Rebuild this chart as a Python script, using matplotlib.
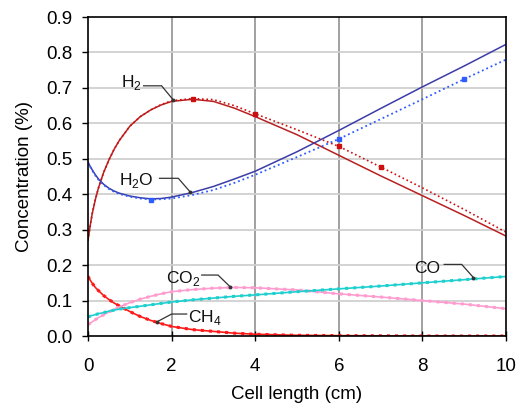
import numpy as np
import matplotlib
matplotlib.use("Agg")
import matplotlib.pyplot as plt

plt.rcParams["font.family"] = ["Liberation Sans", "DejaVu Sans"]
plt.rcParams["mathtext.fontset"] = "custom"
plt.rcParams["mathtext.rm"] = "Liberation Sans"

# --------------- DATA -------------------------------------------------------
x = [0, 0.05, 0.1, 0.175, 0.25, 0.375, 0.5, 0.625, 0.75, 1, 1.25, 1.5, 1.75,
     2, 2.5, 3, 3.5, 4, 5, 6, 7, 8, 9, 10]

h2_model = [0.27, 0.31, 0.345, 0.385, 0.418, 0.462, 0.497, 0.527, 0.552, 0.592,
            0.619, 0.638, 0.652, 0.662, 0.668, 0.662, 0.643, 0.619, 0.568,
            0.510, 0.452, 0.396, 0.34, 0.282]
h2_meas = [0.27, 0.31, 0.345, 0.385, 0.418, 0.462, 0.497, 0.527, 0.552, 0.592,
           0.619, 0.638, 0.653, 0.664, 0.670, 0.667, 0.650, 0.627, 0.582,
           0.535, 0.477, 0.418, 0.357, 0.293]

h2o_model = [0.49, 0.479, 0.469, 0.455, 0.443, 0.428, 0.417, 0.409, 0.403,
             0.395, 0.39, 0.387, 0.388, 0.392, 0.405, 0.422, 0.443, 0.465,
             0.52, 0.58, 0.642, 0.703, 0.762, 0.823]
h2o_meas = [0.49, 0.478, 0.467, 0.453, 0.441, 0.426, 0.415, 0.407, 0.401,
            0.393, 0.388, 0.385, 0.386, 0.388, 0.398, 0.412, 0.432, 0.455,
            0.505, 0.556, 0.612, 0.668, 0.725, 0.78]

ch4 = [0.168, 0.158, 0.149, 0.137, 0.128, 0.114, 0.103, 0.093, 0.085, 0.069,
       0.055, 0.044, 0.035, 0.027, 0.018, 0.013, 0.008, 0.005, 0.002, 0.001,
       0.0005, 0.0, 0.0, 0.0]
co2 = [0.032, 0.036, 0.04, 0.046, 0.052, 0.06, 0.068, 0.075, 0.082, 0.094,
       0.104, 0.112, 0.119, 0.125, 0.131, 0.135, 0.137, 0.136, 0.13, 0.119,
       0.11, 0.1, 0.09, 0.077]
co = [0.054, 0.056, 0.058, 0.06, 0.063, 0.066, 0.07, 0.073, 0.076, 0.08,
      0.084, 0.088, 0.092, 0.096, 0.102, 0.107, 0.112, 0.116, 0.125, 0.133,
      0.141, 0.15, 0.159, 0.168]

# labels: text, text anchor, leader start, bend, target
labels = [
    ("H$_2$",  (1.29, 0.703), "right", (1.33, 0.706), (1.76, 0.706), (2.04, 0.666)),
    ("H$_2$O", (1.56, 0.426), "right", (1.71, 0.445), (2.16, 0.445), (2.44, 0.407)),
    ("CO$_2$", (2.68, 0.150), "right", (2.72, 0.172), (3.11, 0.172), (3.40, 0.139)),
    ("CH$_4$", (2.40, 0.040), "left",  (2.36, 0.062), (2.00, 0.062), (1.65, 0.040)),
    ("CO",     (8.42, 0.178), "right", (8.52, 0.202), (8.94, 0.202), (9.22, 0.165)),
]

# --------------- PLOT -------------------------------------------------------
fig = plt.figure(figsize=(5.19, 4.16), dpi=100)
ax = fig.add_axes([0.1696, 0.1923, 0.8054, 0.7667])

ax.set_xlim(0, 10)
ax.set_ylim(0, 0.9)
ax.set_xticks(np.arange(0, 11, 2))
ax.set_yticks(np.arange(0, 0.91, 0.1))
ax.set_yticklabels([f"{v:.1f}" for v in np.arange(0, 0.91, 0.1)])

# grid: vertical darker than horizontal
for xv in [2, 4, 6, 8]:
    ax.axvline(xv, color="#9a9a9a", lw=1.3, zorder=0)
for yv in np.arange(0.1, 0.9, 0.1):
    ax.axhline(yv, color="#d0d0d0", lw=1.3, zorder=0)

# model (solid) and measured (dotted with squares)
ax.plot(x, h2_model, color="#b82020", lw=1.1)
ax.plot(x, h2_meas, color="#cc1010", lw=1.2, ls=":", marker="s", ms=2.5,
        markevery=[14, 17, 19, 20])
ax.plot(x, h2o_model, color="#3c3ca8", lw=1.1)
ax.plot(x, h2o_meas, color="#2f5cff", lw=1.3, ls=":", marker="s", ms=2.5,
        markevery=[11, 19, 22])

for ys, col in [(ch4, "#ff1a1a"), (co2, "#ff9ccf"), (co, "#1ecfcf")]:
    ax.plot(x, ys, color=col, lw=1.2)
    ax.plot(x, ys, color=col, lw=2.2, ls=":")

# labels with leader lines
for txt, pos, ha, p0, p1, p2 in labels:
    ax.text(pos[0], pos[1], txt, ha=ha, va="baseline", fontsize=12.5,
            color="#111111")
    ax.plot([p0[0], p1[0], p2[0]], [p0[1], p1[1], p2[1]],
            color="#333333", lw=0.9, solid_joinstyle="miter")
    ax.plot(p2[0], p2[1], marker="o", ms=1.8, color="#333333")

ax.tick_params(axis="both", labelsize=13.5, length=4, width=1)
ax.tick_params(axis="y", pad=7)
ax.tick_params(axis="x", direction="inout", length=7, pad=12)
for sp in ax.spines.values():
    sp.set_linewidth(1.2)

ax.set_xlabel("Cell length (cm)", fontsize=13.5, labelpad=8)
ax.set_ylabel("Concentration (%)", fontsize=13.5, labelpad=10)

fig.savefig("out.png", dpi=100)
